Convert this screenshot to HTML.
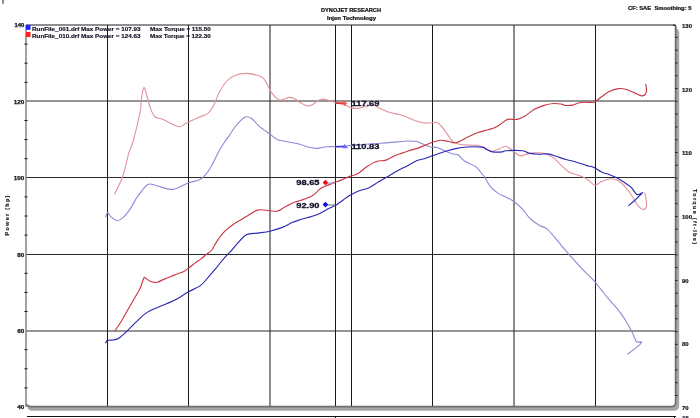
<!DOCTYPE html>
<html><head><meta charset="utf-8"><style>
html,body{margin:0;padding:0;background:#fff;width:700px;height:418px;overflow:hidden}
svg{display:block;will-change:transform}
text{font-family:"Liberation Sans", sans-serif}
</style></head><body>
<svg width="700" height="418" viewBox="0 0 700 418">
<rect width="700" height="418" fill="#fff"/>
<line x1="26" y1="25" x2="675" y2="25" stroke="#6a6a6a" stroke-width="1.4"/>
<line x1="26" y1="101.00" x2="675" y2="101.00" stroke="#2a2a2a" stroke-width="1"/>
<line x1="26" y1="177.50" x2="675" y2="177.50" stroke="#2a2a2a" stroke-width="1"/>
<line x1="26" y1="254.50" x2="675" y2="254.50" stroke="#2a2a2a" stroke-width="1"/>
<line x1="26" y1="331.00" x2="675" y2="331.00" stroke="#2a2a2a" stroke-width="1"/>
<line x1="107.50" y1="25" x2="107.50" y2="407" stroke="#1a1a1a" stroke-width="1"/>
<line x1="188.50" y1="25" x2="188.50" y2="407" stroke="#1a1a1a" stroke-width="1"/>
<line x1="270.00" y1="25" x2="270.00" y2="407" stroke="#1a1a1a" stroke-width="1"/>
<line x1="351.50" y1="25" x2="351.50" y2="407" stroke="#1a1a1a" stroke-width="1"/>
<line x1="432.50" y1="25" x2="432.50" y2="407" stroke="#1a1a1a" stroke-width="1"/>
<line x1="514.00" y1="25" x2="514.00" y2="407" stroke="#1a1a1a" stroke-width="1"/>
<line x1="595.50" y1="25" x2="595.50" y2="407" stroke="#1a1a1a" stroke-width="1"/>
<line x1="335.50" y1="25" x2="335.50" y2="407" stroke="#1a1a1a" stroke-width="1"/>
<line x1="26" y1="25" x2="26" y2="407" stroke="#8a8a8a" stroke-width="1.6"/>
<line x1="24.5" y1="44.10" x2="27.5" y2="44.10" stroke="#111" stroke-width="1"/>
<line x1="24.5" y1="63.20" x2="27.5" y2="63.20" stroke="#111" stroke-width="1"/>
<line x1="24.5" y1="82.30" x2="27.5" y2="82.30" stroke="#111" stroke-width="1"/>
<line x1="24.5" y1="120.50" x2="27.5" y2="120.50" stroke="#111" stroke-width="1"/>
<line x1="24.5" y1="139.60" x2="27.5" y2="139.60" stroke="#111" stroke-width="1"/>
<line x1="24.5" y1="158.70" x2="27.5" y2="158.70" stroke="#111" stroke-width="1"/>
<line x1="24.5" y1="196.90" x2="27.5" y2="196.90" stroke="#111" stroke-width="1"/>
<line x1="24.5" y1="216.00" x2="27.5" y2="216.00" stroke="#111" stroke-width="1"/>
<line x1="24.5" y1="235.10" x2="27.5" y2="235.10" stroke="#111" stroke-width="1"/>
<line x1="24.5" y1="273.30" x2="27.5" y2="273.30" stroke="#111" stroke-width="1"/>
<line x1="24.5" y1="292.40" x2="27.5" y2="292.40" stroke="#111" stroke-width="1"/>
<line x1="24.5" y1="311.50" x2="27.5" y2="311.50" stroke="#111" stroke-width="1"/>
<line x1="24.5" y1="349.70" x2="27.5" y2="349.70" stroke="#111" stroke-width="1"/>
<line x1="24.5" y1="368.80" x2="27.5" y2="368.80" stroke="#111" stroke-width="1"/>
<line x1="24.5" y1="387.90" x2="27.5" y2="387.90" stroke="#111" stroke-width="1"/>
<path d="M676,26 L679.2,32 L679.2,405 Q679.2,410.8 674,410.8 L32,410.8 Q28,410.8 27,406 L676,406 Z" fill="#a6a6a6"/>
<path d="M675.6,25.5 L675.6,402.5 Q675.6,406.6 671.5,406.6 L31,406.6 Q28,406.6 26.5,404.5" fill="none" stroke="#6e6e6e" stroke-width="1.7"/>
<line x1="673" y1="25.3" x2="676" y2="25.3" stroke="#222" stroke-width="1.2"/>
<line x1="675" y1="37.39" x2="677.6" y2="37.39" stroke="#222" stroke-width="1"/>
<line x1="675" y1="50.18" x2="677.6" y2="50.18" stroke="#222" stroke-width="1"/>
<line x1="675" y1="62.97" x2="677.6" y2="62.97" stroke="#222" stroke-width="1"/>
<line x1="675" y1="75.76" x2="677.6" y2="75.76" stroke="#222" stroke-width="1"/>
<line x1="675" y1="88.55" x2="677.6" y2="88.55" stroke="#222" stroke-width="1"/>
<line x1="675" y1="101.34" x2="677.6" y2="101.34" stroke="#222" stroke-width="1"/>
<line x1="675" y1="114.13" x2="677.6" y2="114.13" stroke="#222" stroke-width="1"/>
<line x1="675" y1="126.92" x2="677.6" y2="126.92" stroke="#222" stroke-width="1"/>
<line x1="675" y1="139.71" x2="677.6" y2="139.71" stroke="#222" stroke-width="1"/>
<line x1="675" y1="152.50" x2="677.6" y2="152.50" stroke="#222" stroke-width="1"/>
<line x1="675" y1="165.29" x2="677.6" y2="165.29" stroke="#222" stroke-width="1"/>
<line x1="675" y1="178.08" x2="677.6" y2="178.08" stroke="#222" stroke-width="1"/>
<line x1="675" y1="190.87" x2="677.6" y2="190.87" stroke="#222" stroke-width="1"/>
<line x1="675" y1="203.66" x2="677.6" y2="203.66" stroke="#222" stroke-width="1"/>
<line x1="675" y1="216.45" x2="677.6" y2="216.45" stroke="#222" stroke-width="1"/>
<line x1="675" y1="229.24" x2="677.6" y2="229.24" stroke="#222" stroke-width="1"/>
<line x1="675" y1="242.03" x2="677.6" y2="242.03" stroke="#222" stroke-width="1"/>
<line x1="675" y1="254.82" x2="677.6" y2="254.82" stroke="#222" stroke-width="1"/>
<line x1="675" y1="267.61" x2="677.6" y2="267.61" stroke="#222" stroke-width="1"/>
<line x1="675" y1="280.40" x2="677.6" y2="280.40" stroke="#222" stroke-width="1"/>
<line x1="675" y1="293.19" x2="677.6" y2="293.19" stroke="#222" stroke-width="1"/>
<line x1="675" y1="305.98" x2="677.6" y2="305.98" stroke="#222" stroke-width="1"/>
<line x1="675" y1="318.77" x2="677.6" y2="318.77" stroke="#222" stroke-width="1"/>
<line x1="675" y1="331.56" x2="677.6" y2="331.56" stroke="#222" stroke-width="1"/>
<line x1="675" y1="344.35" x2="677.6" y2="344.35" stroke="#222" stroke-width="1"/>
<line x1="675" y1="357.14" x2="677.6" y2="357.14" stroke="#222" stroke-width="1"/>
<line x1="675" y1="369.93" x2="677.6" y2="369.93" stroke="#222" stroke-width="1"/>
<line x1="675" y1="382.72" x2="677.6" y2="382.72" stroke="#222" stroke-width="1"/>
<line x1="675" y1="395.51" x2="677.6" y2="395.51" stroke="#222" stroke-width="1"/>
<text x="24.3" y="27.4" font-size="4.6" font-weight="bold" text-anchor="end" fill="#141420" textLength="9.7" lengthAdjust="spacingAndGlyphs" stroke="#141420" stroke-width="0.25" >140</text>
<text x="24.3" y="103.8" font-size="4.6" font-weight="bold" text-anchor="end" fill="#141420" textLength="10.5" lengthAdjust="spacingAndGlyphs" stroke="#141420" stroke-width="0.25" >120</text>
<text x="24.3" y="180.2" font-size="4.6" font-weight="bold" text-anchor="end" fill="#141420" textLength="10.5" lengthAdjust="spacingAndGlyphs" stroke="#141420" stroke-width="0.25" >100</text>
<text x="24.3" y="256.6" font-size="4.6" font-weight="bold" text-anchor="end" fill="#141420" textLength="7" lengthAdjust="spacingAndGlyphs" stroke="#141420" stroke-width="0.25" >80</text>
<text x="24.3" y="333.0" font-size="4.6" font-weight="bold" text-anchor="end" fill="#141420" textLength="7" lengthAdjust="spacingAndGlyphs" stroke="#141420" stroke-width="0.25" >60</text>
<text x="24.3" y="409.4" font-size="4.6" font-weight="bold" text-anchor="end" fill="#141420" textLength="7" lengthAdjust="spacingAndGlyphs" stroke="#141420" stroke-width="0.25" >40</text>
<text x="682" y="27.9" font-size="4.6" font-weight="bold" text-anchor="start" fill="#1a1a26" textLength="10" lengthAdjust="spacingAndGlyphs" stroke="#1a1a26" stroke-width="0.2" >130</text>
<text x="682" y="91.6" font-size="4.6" font-weight="bold" text-anchor="start" fill="#1a1a26" textLength="10" lengthAdjust="spacingAndGlyphs" stroke="#1a1a26" stroke-width="0.2" >120</text>
<text x="682" y="155.2" font-size="4.6" font-weight="bold" text-anchor="start" fill="#1a1a26" textLength="10" lengthAdjust="spacingAndGlyphs" stroke="#1a1a26" stroke-width="0.2" >110</text>
<text x="682" y="218.9" font-size="4.6" font-weight="bold" text-anchor="start" fill="#1a1a26" textLength="10" lengthAdjust="spacingAndGlyphs" stroke="#1a1a26" stroke-width="0.2" >100</text>
<text x="682" y="282.6" font-size="4.6" font-weight="bold" text-anchor="start" fill="#1a1a26" textLength="6.6" lengthAdjust="spacingAndGlyphs" stroke="#1a1a26" stroke-width="0.2" >90</text>
<text x="682" y="346.2" font-size="4.6" font-weight="bold" text-anchor="start" fill="#1a1a26" textLength="6.6" lengthAdjust="spacingAndGlyphs" stroke="#1a1a26" stroke-width="0.2" >80</text>
<text x="682" y="409.9" font-size="4.6" font-weight="bold" text-anchor="start" fill="#1a1a26" textLength="6.6" lengthAdjust="spacingAndGlyphs" stroke="#1a1a26" stroke-width="0.2" >70</text>
<text x="682.3" y="419.5" font-size="4.6" font-weight="bold" text-anchor="start" fill="#1a1a26" textLength="6.6" lengthAdjust="spacingAndGlyphs" stroke="#1a1a26" stroke-width="0.2" >15</text>
<text x="0" y="0" font-size="5.6" font-weight="bold" fill="#1a1a2a" stroke="#1a1a2a" stroke-width="0.15" textLength="40" lengthAdjust="spacing" text-anchor="middle" transform="translate(8.9,215.5) rotate(-90)">Power (hp)</text>
<text x="0" y="0" font-size="5.6" font-weight="bold" fill="#1a1a2a" stroke="#1a1a2a" stroke-width="0.15" textLength="55" lengthAdjust="spacing" text-anchor="middle" transform="translate(693.3,216.5) rotate(90)">Torque (ft-lbs)</text>
<text x="321" y="11.6" font-size="4.7" font-weight="bold" text-anchor="start" fill="#111" textLength="60" lengthAdjust="spacingAndGlyphs" stroke="#111" stroke-width="0.2" >DYNOJET RESEARCH</text>
<text x="327" y="20.1" font-size="4.7" font-weight="bold" text-anchor="start" fill="#111" textLength="49" lengthAdjust="spacingAndGlyphs" stroke="#111" stroke-width="0.2" >Injen Technology</text>
<text x="628" y="10.4" font-size="4.9" font-weight="bold" text-anchor="start" fill="#111" textLength="63.4" lengthAdjust="spacingAndGlyphs" stroke="#111" stroke-width="0.2" xml:space="preserve">CF: SAE  Smoothing: 5</text>
<rect x="26" y="25" width="4.5" height="4.8" fill="#2020ff"/>
<rect x="26" y="32" width="4.5" height="5" fill="#ff2020"/>
<text x="32" y="30.6" font-size="4.9" font-weight="bold" text-anchor="start" fill="#151525" textLength="108.5" lengthAdjust="spacingAndGlyphs" stroke="#151525" stroke-width="0.15" >RunFile_001.drf Max Power = 107.93</text>
<text x="150" y="30.6" font-size="4.9" font-weight="bold" text-anchor="start" fill="#151525" textLength="60.7" lengthAdjust="spacingAndGlyphs" stroke="#151525" stroke-width="0.15" >Max Torque = 115.50</text>
<text x="32" y="37.6" font-size="4.9" font-weight="bold" text-anchor="start" fill="#151525" textLength="108.5" lengthAdjust="spacingAndGlyphs" stroke="#151525" stroke-width="0.15" >RunFile_010.drf Max Power = 124.63</text>
<text x="150" y="37.6" font-size="4.9" font-weight="bold" text-anchor="start" fill="#151525" textLength="60.7" lengthAdjust="spacingAndGlyphs" stroke="#151525" stroke-width="0.15" >Max Torque = 122.30</text>
<path d="M114.4,194.6 C115.7,191.9 120.1,183.2 122.0,178.3 C123.9,173.4 124.8,169.1 125.9,164.9 C127.0,160.8 127.4,157.6 128.7,153.4 C130.0,149.2 131.6,146.9 133.5,140.0 C135.4,133.1 138.9,118.3 140.2,111.7 C141.5,105.1 140.6,104.2 141.2,100.2 C141.8,96.2 142.9,89.1 143.7,87.8 C144.5,86.5 145.0,89.6 146.0,92.6 C147.0,95.6 148.4,102.0 149.8,106.0 C151.2,110.0 152.4,114.3 154.6,116.5 C156.8,118.7 159.2,117.7 163.2,119.4 C167.2,121.1 174.7,126.1 178.5,126.7 C182.3,127.3 182.7,124.8 186.2,123.2 C189.7,121.6 196.0,118.6 199.6,117.0 C203.2,115.4 205.4,115.4 207.7,113.6 C210.0,111.8 211.5,109.5 213.4,106.0 C215.3,102.5 217.0,96.8 219.2,92.6 C221.4,88.4 224.1,83.9 226.8,81.0 C229.5,78.1 232.2,76.6 235.4,75.3 C238.6,74.0 242.1,73.4 245.8,73.4 C249.5,73.4 254.6,74.5 257.5,75.3 C260.4,76.1 261.6,76.8 263.2,78.2 C264.8,79.7 265.7,81.8 267.0,84.0 C268.3,86.2 269.4,89.4 270.9,91.6 C272.3,93.8 274.1,96.0 275.7,97.4 C277.3,98.8 278.3,100.2 280.5,100.2 C282.7,100.2 286.4,97.6 289.0,97.4 C291.6,97.2 294.0,98.4 295.8,99.3 C297.6,100.2 298.0,101.5 300.0,102.6 C302.0,103.7 305.5,105.7 307.7,105.9 C309.9,106.1 311.5,105.0 313.4,104.0 C315.3,103.0 317.3,100.9 319.2,100.1 C321.1,99.3 322.2,98.8 324.9,99.2 C327.6,99.6 332.0,101.4 335.3,102.4 C338.6,103.4 342.1,104.1 344.7,105.0 C347.3,105.9 348.5,107.0 350.7,107.6 C352.9,108.2 355.3,108.6 357.6,108.4 C359.9,108.2 361.9,107.3 364.4,106.7 C366.9,106.1 370.1,104.6 372.8,104.9 C375.5,105.2 377.6,107.4 380.5,108.7 C383.4,110.0 386.8,111.6 390.0,112.6 C393.2,113.6 397.1,114.0 400.0,114.8 C402.9,115.6 405.1,116.4 407.7,117.4 C410.2,118.4 412.4,119.6 415.3,120.6 C418.2,121.5 421.4,122.8 424.9,123.1 C428.4,123.4 433.7,122.0 436.4,122.5 C439.1,123.0 439.4,124.2 441.2,126.0 C442.9,127.8 445.0,131.0 446.9,133.6 C448.8,136.2 450.6,139.5 452.7,141.3 C454.8,143.1 456.7,143.6 459.4,144.2 C462.1,144.8 466.0,144.9 469.0,145.1 C472.0,145.3 475.0,145.1 477.2,145.3 C479.4,145.5 480.4,145.9 482.0,146.5 C483.6,147.1 485.1,148.1 486.7,148.9 C488.3,149.7 489.7,151.2 491.5,151.3 C493.3,151.4 495.2,150.3 497.5,149.5 C499.8,148.7 503.3,146.5 505.3,146.3 C507.3,146.1 508.0,147.4 509.5,148.3 C511.0,149.2 512.5,150.6 514.3,151.9 C516.1,153.2 518.2,155.5 520.2,155.9 C522.2,156.3 524.0,154.8 526.2,154.3 C528.4,153.8 531.1,153.0 533.4,152.8 C535.7,152.6 537.9,152.7 540.0,152.9 C542.1,153.1 543.7,153.1 546.0,153.9 C548.3,154.7 551.1,155.9 553.6,157.8 C556.1,159.7 558.7,163.0 561.3,165.4 C563.9,167.8 565.8,170.3 569.0,172.1 C572.2,173.9 577.3,174.7 580.5,176.0 C583.7,177.3 585.7,178.3 588.1,179.8 C590.5,181.3 592.6,184.9 594.8,185.2 C597.0,185.5 598.8,182.7 601.5,181.6 C604.2,180.5 608.2,178.8 611.1,178.7 C614.0,178.6 616.2,179.4 618.7,181.0 C621.2,182.6 624.2,185.8 626.4,188.3 C628.6,190.8 630.2,193.1 632.1,196.0 C634.0,198.9 636.0,203.4 637.9,205.6 C639.8,207.8 642.2,209.4 643.6,209.4 C645.0,209.4 646.2,207.8 646.5,205.6 C646.8,203.4 645.9,198.2 645.6,196.0 C645.3,193.8 644.8,193.1 644.6,192.5" fill="none" stroke="#e4929c" stroke-width="1.1" stroke-linejoin="round"/>
<path d="M105.4,217.2 C105.8,216.4 106.9,212.7 107.7,212.5 C108.5,212.3 108.9,214.9 110.5,216.3 C112.1,217.7 115.1,220.5 117.2,220.7 C119.3,220.9 120.9,219.4 123.0,217.6 C125.1,215.8 127.6,212.5 129.7,209.6 C131.8,206.7 134.0,202.3 135.4,200.0 C136.8,197.7 136.2,198.1 138.3,195.5 C140.4,192.9 144.7,186.0 147.9,184.4 C151.1,182.8 153.3,185.2 157.5,186.0 C161.7,186.8 167.7,189.9 172.8,189.4 C177.9,188.9 183.6,184.6 188.1,183.0 C192.6,181.4 196.7,181.2 199.6,179.8 C202.5,178.4 203.7,176.9 205.7,174.6 C207.7,172.3 209.2,170.0 211.5,166.0 C213.8,162.0 216.9,154.8 219.2,150.7 C221.4,146.6 223.2,144.1 225.0,141.4 C226.8,138.7 228.2,137.0 229.8,134.7 C231.4,132.4 233.0,129.7 234.6,127.5 C236.2,125.3 237.8,123.5 239.4,121.8 C241.0,120.1 242.9,118.3 244.2,117.5 C245.5,116.7 245.9,116.6 247.0,116.7 C248.1,116.8 249.8,117.3 250.9,117.9 C252.0,118.5 252.4,119.0 253.7,120.3 C255.0,121.6 256.9,124.1 258.5,125.6 C260.1,127.1 261.5,128.1 263.3,129.4 C265.1,130.8 267.3,132.1 269.5,133.7 C271.7,135.3 273.8,137.9 276.6,139.2 C279.4,140.5 282.3,140.7 286.2,141.5 C290.1,142.3 296.4,143.3 300.0,144.2 C303.6,145.1 304.8,146.3 307.7,147.0 C310.6,147.7 314.0,148.5 317.2,148.4 C320.4,148.3 323.6,147.0 326.8,146.7 C330.0,146.4 333.4,146.8 336.4,146.7 C339.4,146.6 341.8,146.4 345.0,146.1 C348.2,145.8 349.7,145.6 355.6,145.1 C361.5,144.6 373.5,143.7 380.5,143.2 C387.5,142.7 393.1,142.3 397.5,141.9 C401.9,141.5 403.8,141.1 407.0,141.0 C410.2,140.9 414.0,141.0 416.6,141.5 C419.2,142.0 420.2,142.9 422.4,143.8 C424.6,144.7 427.4,146.0 430.0,146.7 C432.6,147.4 434.7,146.8 438.3,148.0 C441.9,149.2 448.5,152.7 451.7,153.8 C454.9,154.9 455.4,153.5 457.7,154.8 C460.0,156.1 462.2,159.5 465.3,161.5 C468.4,163.5 473.2,164.8 476.0,166.9 C478.8,169.0 480.6,172.3 482.0,174.0 C483.4,175.7 483.1,174.7 484.5,176.8 C485.9,178.9 488.0,183.7 490.2,186.4 C492.4,189.1 495.0,191.2 497.9,193.1 C500.8,195.0 504.8,196.5 507.5,197.9 C510.2,199.3 511.7,199.8 514.2,201.7 C516.8,203.6 520.1,206.5 522.8,209.4 C525.5,212.3 527.6,216.3 530.5,219.0 C533.4,221.7 537.3,224.1 540.0,225.7 C542.7,227.3 544.2,226.5 546.7,228.6 C549.2,230.7 551.6,233.9 555.3,238.2 C559.0,242.4 564.2,249.0 568.7,254.1 C573.2,259.2 578.0,264.5 582.1,268.9 C586.2,273.3 590.4,276.8 593.6,280.3 C596.8,283.8 598.7,286.7 601.3,289.9 C603.9,293.1 606.6,296.6 609.2,299.6 C611.8,302.7 614.2,305.0 616.8,308.2 C619.3,311.4 622.1,315.0 624.5,318.7 C626.9,322.4 629.5,326.8 631.2,330.2 C633.0,333.6 634.0,336.9 635.0,338.9 C636.0,340.9 635.8,341.6 636.9,342.1 C638.0,342.6 640.9,341.8 641.7,341.7 L639.8,344.6 L634.1,349.4 L627.4,354.2" fill="none" stroke="#8a8ad8" stroke-width="1.1" stroke-linejoin="round"/>
<path d="M114.6,331.3 C115.7,329.7 118.7,325.5 121.0,321.7 C123.3,317.9 126.4,312.2 128.7,308.3 C130.9,304.4 132.6,301.6 134.5,298.2 C136.4,294.8 138.7,291.5 140.2,288.2 C141.7,284.9 142.8,280.2 143.6,278.5 C144.4,276.8 144.1,277.3 145.0,277.7 C145.9,278.1 147.9,280.0 149.3,280.8 C150.8,281.6 152.4,282.1 153.7,282.3 C155.0,282.6 155.5,282.8 157.2,282.3 C158.9,281.8 161.4,280.4 163.7,279.4 C166.0,278.4 168.5,277.4 170.9,276.5 C173.3,275.6 175.8,274.5 178.0,273.7 C180.2,272.9 182.0,272.5 183.8,271.5 C185.6,270.5 186.9,269.3 188.8,267.9 C190.7,266.5 193.3,264.4 195.3,262.9 C197.3,261.4 198.8,260.5 200.7,259.1 C202.6,257.7 204.7,255.8 206.5,254.3 C208.3,252.8 210.0,252.2 211.8,250.0 C213.6,247.8 215.0,243.9 217.2,240.8 C219.4,237.7 222.0,234.1 224.9,231.2 C227.8,228.3 231.0,225.9 234.5,223.5 C238.0,221.1 242.2,219.0 246.0,216.8 C249.8,214.6 253.7,211.1 257.5,210.1 C261.3,209.1 265.6,210.5 269.0,210.7 C272.4,210.9 275.1,211.7 277.6,211.1 C280.2,210.5 282.0,208.5 284.3,207.2 C286.6,205.9 289.6,204.3 291.5,203.4 C293.4,202.5 294.2,202.3 295.8,201.8 C297.4,201.3 298.5,201.2 301.2,200.2 C303.9,199.2 309.2,197.3 311.9,195.9 C314.6,194.5 315.7,192.9 317.3,191.6 C318.9,190.2 319.8,188.9 321.6,187.8 C323.4,186.7 325.9,186.0 328.1,185.1 C330.3,184.2 332.6,183.2 334.6,182.4 C336.6,181.7 337.5,181.6 340.0,180.6 C342.5,179.6 346.7,177.5 349.6,176.4 C352.5,175.3 354.3,175.7 357.2,174.1 C360.1,172.5 363.6,168.9 366.8,166.8 C370.0,164.7 373.2,162.6 376.4,161.5 C379.6,160.4 382.8,161.1 386.0,160.1 C389.2,159.1 393.3,156.4 395.6,155.3 C397.9,154.2 398.1,154.4 400.0,153.8 C401.9,153.2 405.1,152.2 407.0,151.5 C408.9,150.8 409.9,150.4 411.5,149.9 C413.1,149.4 414.7,149.2 416.6,148.6 C418.5,148.0 420.3,147.1 423.0,146.1 C425.7,145.1 429.7,143.3 432.6,142.3 C435.5,141.3 437.6,140.5 440.2,140.3 C442.8,140.1 445.3,140.9 447.9,141.3 C450.5,141.7 452.4,143.4 455.6,142.8 C458.8,142.2 463.4,139.2 467.0,137.5 C470.6,135.8 473.7,134.1 477.2,132.8 C480.7,131.5 485.2,130.6 488.0,129.8 C490.8,129.0 492.0,128.9 494.0,128.0 C496.0,127.1 497.7,126.0 500.0,124.6 C502.3,123.2 504.8,120.3 507.7,119.4 C510.6,118.5 514.3,120.0 517.2,119.4 C520.1,118.8 522.0,117.7 524.9,116.0 C527.8,114.3 531.3,111.1 534.5,109.3 C537.7,107.5 540.9,106.4 544.1,105.4 C547.3,104.4 550.7,103.7 553.6,103.5 C556.5,103.3 559.4,103.8 561.3,104.1 C563.2,104.4 563.2,105.2 565.1,105.4 C567.0,105.6 570.6,105.5 572.8,105.1 C575.0,104.7 576.3,103.5 578.5,103.0 C580.7,102.5 583.6,102.3 586.2,102.2 C588.8,102.1 591.4,103.1 593.9,102.2 C596.4,101.3 599.0,98.6 601.5,96.8 C604.0,95.0 606.3,92.9 609.2,91.5 C612.1,90.1 615.8,88.9 618.7,88.6 C621.6,88.3 623.8,88.8 626.4,89.5 C629.0,90.2 631.5,91.5 634.1,92.6 C636.7,93.7 639.8,95.7 641.7,95.9 C643.6,96.1 644.8,95.0 645.6,93.9 C646.4,92.8 646.5,90.9 646.5,89.2 C646.5,87.5 645.8,84.7 645.6,83.8" fill="none" stroke="#c83844" stroke-width="1.15" stroke-linejoin="round"/>
<path d="M105.5,343.3 C105.8,342.8 106.2,340.9 107.5,340.4 C108.8,339.8 111.5,340.4 113.4,340.0 C115.4,339.6 117.0,339.4 119.2,338.0 C121.4,336.6 123.9,334.0 126.8,331.3 C129.7,328.6 133.2,324.7 136.4,321.7 C139.6,318.7 142.5,315.5 146.0,313.1 C149.5,310.7 154.0,309.0 157.5,307.4 C161.0,305.8 163.8,304.9 167.0,303.5 C170.2,302.1 173.5,300.9 177.0,299.0 C180.5,297.1 184.2,294.3 188.1,292.0 C192.0,289.7 197.1,288.1 200.7,285.4 C204.2,282.7 206.8,278.8 209.4,275.9 C212.0,273.0 214.0,270.7 216.1,268.2 C218.2,265.7 219.9,263.3 221.8,261.0 C223.7,258.7 225.9,256.1 227.6,254.3 C229.3,252.5 230.4,251.6 231.9,250.0 C233.4,248.4 234.1,247.1 236.4,244.6 C238.8,242.1 242.5,236.9 246.0,235.0 C249.5,233.1 253.5,233.7 257.5,233.1 C261.5,232.5 265.8,232.1 269.9,231.2 C274.0,230.2 278.7,228.8 282.4,227.4 C286.1,226.0 289.1,223.9 292.0,222.6 C294.9,221.3 295.9,221.0 300.0,219.7 C304.1,218.4 311.6,216.8 316.3,215.0 C321.0,213.2 325.0,210.4 328.1,208.8 C331.2,207.2 333.1,206.7 335.1,205.6 C337.1,204.5 337.6,204.0 340.0,202.3 C342.4,200.6 346.4,197.5 349.6,195.6 C352.8,193.7 356.0,192.1 359.2,190.8 C362.4,189.5 365.5,189.4 368.7,187.9 C371.9,186.4 375.1,184.0 378.3,182.1 C381.5,180.2 384.7,178.3 387.9,176.4 C391.1,174.5 394.3,172.4 397.5,170.7 C400.7,168.9 403.8,167.6 407.0,165.9 C410.2,164.2 413.7,161.9 416.6,160.7 C419.5,159.5 421.6,159.6 424.3,158.8 C427.0,158.0 429.3,156.9 432.6,155.7 C435.9,154.5 440.3,153.0 444.1,151.8 C447.9,150.6 451.8,149.4 455.6,148.6 C459.4,147.8 462.6,147.2 467.0,147.0 C471.4,146.8 478.7,146.7 482.0,147.1 C485.3,147.5 484.9,148.7 486.7,149.5 C488.5,150.3 490.1,151.5 492.7,151.9 C495.3,152.3 500.1,152.1 502.3,151.9 C504.5,151.7 502.5,150.9 505.9,150.7 C509.3,150.5 518.8,150.3 522.6,150.7 C526.4,151.1 526.0,152.5 528.6,153.1 C531.2,153.7 535.1,154.2 538.3,154.3 C541.5,154.4 544.7,153.5 547.9,153.9 C551.1,154.3 554.3,155.8 557.5,156.8 C560.7,157.8 563.8,158.8 567.0,159.7 C570.2,160.6 573.4,161.2 576.6,162.2 C579.8,163.1 583.3,164.5 586.2,165.4 C589.1,166.3 591.4,166.3 593.9,167.4 C596.4,168.5 599.0,170.8 601.5,172.0 C604.0,173.2 606.7,173.5 609.2,174.5 C611.8,175.5 614.2,176.5 616.8,177.8 C619.3,179.2 622.1,181.0 624.5,182.6 C626.9,184.2 629.1,185.4 631.2,187.4 C633.3,189.4 635.1,193.5 636.9,194.4 C638.6,195.3 640.7,193.4 641.7,193.1 C642.7,192.8 642.5,192.6 642.7,192.5 L635,200.2 L628.3,205.9" fill="none" stroke="#2a2ab4" stroke-width="1.15" stroke-linejoin="round"/>
<line x1="335" y1="103.1" x2="344" y2="103.1" stroke="#d82828" stroke-width="1.5"/>
<path d="M342.6,100.6 L347.4,103.2 L344.2,105.9 Z" fill="#ff5050"/>
<line x1="335" y1="146.6" x2="344" y2="146.6" stroke="#3a3ae0" stroke-width="1.6"/>
<path d="M342.4,148.3 L344.6,144.0 L348.2,148.3 Z" fill="#6a6aff"/>
<line x1="327" y1="183.1" x2="335" y2="183.1" stroke="#a0a0c8" stroke-width="1.2"/>
<path d="M322.59999999999997,182.6 L325.4,179.79999999999998 L328.2,182.6 L325.4,185.4 Z" fill="#ee1010"/>
<line x1="327" y1="205" x2="335" y2="205" stroke="#808090" stroke-width="1.2"/>
<path d="M322.59999999999997,204.6 L325.4,201.79999999999998 L328.2,204.6 L325.4,207.4 Z" fill="#1010ee"/>
<text x="351.6" y="106.1" font-size="7.9" font-weight="bold" text-anchor="start" fill="#12122c" textLength="27.8" lengthAdjust="spacingAndGlyphs" stroke="#12122c" stroke-width="0.3" >117.69</text>
<text x="351.4" y="149.3" font-size="7.9" font-weight="bold" text-anchor="start" fill="#12122c" textLength="28.0" lengthAdjust="spacingAndGlyphs" stroke="#12122c" stroke-width="0.3" >110.83</text>
<text x="296.3" y="185.4" font-size="7.6" font-weight="bold" text-anchor="start" fill="#12122c" textLength="23.2" lengthAdjust="spacingAndGlyphs" stroke="#12122c" stroke-width="0.3" >98.65</text>
<text x="296.3" y="207.5" font-size="7.6" font-weight="bold" text-anchor="start" fill="#12122c" textLength="23.2" lengthAdjust="spacingAndGlyphs" stroke="#12122c" stroke-width="0.3" >92.90</text>
<line x1="27" y1="416.5" x2="676" y2="416.5" stroke="#111" stroke-width="1.2"/>
<line x1="335.5" y1="416" x2="335.5" y2="418" stroke="#111" stroke-width="1"/>
<line x1="674.5" y1="416" x2="674.5" y2="418" stroke="#111" stroke-width="1"/>
<rect x="2.3" y="0" width="1.5" height="3.8" fill="#666"/>
</svg>
</body></html>
